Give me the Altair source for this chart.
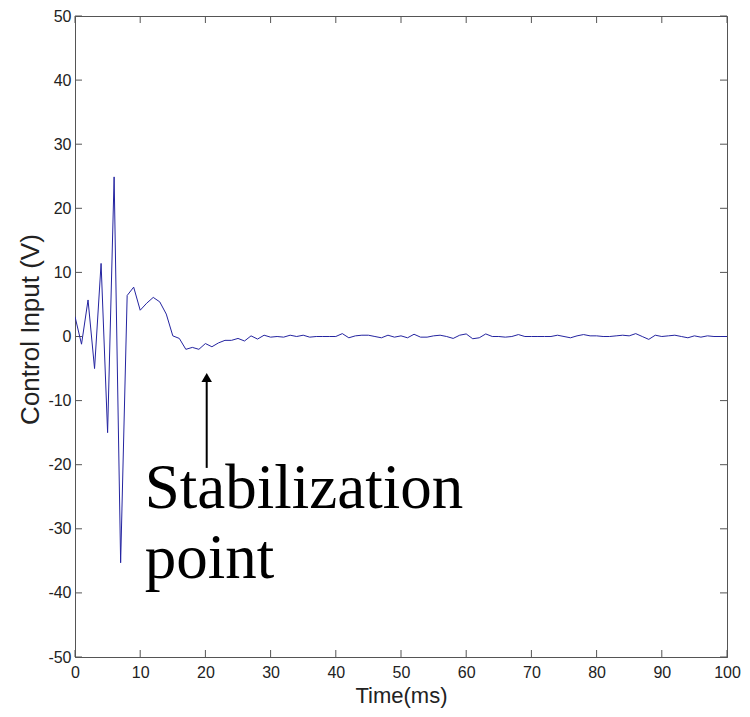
import altair as alt
import pandas as pd

# ---- data ----
time_ms = list(range(0, 101))
control_v = [
    3.1, -1.2, 5.7, -5.0, 11.4, -15.0, 24.9, -35.3, 6.4, 7.7,
    4.1, 5.2, 6.1, 5.4, 3.5, 0.1, -0.3, -2.0, -1.7, -2.0,
    -1.1, -1.6, -1.0, -0.6, -0.6, -0.3, -0.7, 0.1, -0.4, 0.2,
    -0.1, 0.0, -0.1, 0.2, 0.0, 0.2, -0.1, 0.0, 0.0, 0.0,
    0.0, 0.45, -0.2, 0.1, 0.2, 0.2, 0.0, -0.2, 0.2, -0.1,
    0.1, -0.2, 0.35, -0.1, -0.1, 0.1, 0.2, 0.0, -0.3, 0.2,
    0.4, -0.35, -0.2, 0.4, 0.0, 0.0, -0.1, 0.0, 0.3, 0.0,
    0.0, 0.0, 0.0, 0.0, 0.2, 0.0, -0.2, 0.1, 0.3, 0.1,
    0.1, 0.0, 0.0, 0.1, 0.2, 0.1, 0.45, 0.0, -0.45, 0.2,
    0.0, 0.1, 0.2, 0.0, -0.2, 0.1, -0.1, 0.1, 0.0, 0.0,
    0.0,
]
x_ticks = list(range(0, 101, 10))
y_ticks = list(range(-50, 51, 10))

# annotation
ann_lines = ["Stabilization", "point"]
ann_x = [10.7, 10.7]
ann_y = [-26.8, -37.7]
arrow_x = [20.2]
arrow_y_bottom = [-20.5]
arrow_y_top = [-6.6]
arrow_head_y = [-6.4]

W, H = 652, 641
AXIS_COLOR = "#555555"
TICK_LEN = 7
FONT = "Liberation Sans"

df = pd.DataFrame({"t": time_ms, "u": control_v})
xt = pd.DataFrame({"v": x_ticks})
yt = pd.DataFrame({"v": y_ticks})
ann = pd.DataFrame({"x": ann_x, "y": ann_y, "txt": ann_lines})
arr = pd.DataFrame({"x": arrow_x, "y": arrow_y_bottom, "y2": arrow_y_top, "yh": arrow_head_y})

xs = alt.Scale(domain=[0, 100], nice=False, zero=False)
ys = alt.Scale(domain=[-50, 50], nice=False, zero=False)

line = alt.Chart(df).mark_line(color="#2424a0", strokeWidth=1, clip=True).encode(
    x=alt.X("t:Q", scale=xs, axis=alt.Axis(
        values=x_ticks, ticks=False, grid=False, domain=True,
        domainColor=AXIS_COLOR, labelFont=FONT, labelFontSize=16,
        labelColor="#222222", labelPadding=7, labelFlush=False,
        labelExpr="toString(datum.value)",
        title="Time(ms)", titleFont=FONT, titleFontSize=22,
        titleFontWeight="normal", titleColor="#222222",
        titleX=W / 2, titleY=45, titleBaseline="alphabetic", titleAlign="center",
    )),
    y=alt.Y("u:Q", scale=ys, axis=alt.Axis(
        values=y_ticks, ticks=False, grid=False, domain=True,
        domainColor=AXIS_COLOR, labelFont=FONT, labelFontSize=16,
        labelColor="#222222", labelPadding=4, labelFlush=False,
        labelExpr="toString(datum.value)",
        title="Control Input (V)", titleFont=FONT, titleFontSize=26,
        titleFontWeight="normal", titleColor="#222222",
        titleX=-45, titleY=313, titleAngle=270, titleAlign="center",
        titleBaseline="middle",
    )),
)

# inside ticks (MATLAB style) on all four sides
xb = alt.Chart(xt).mark_rule(color=AXIS_COLOR, strokeWidth=1).encode(
    x=alt.X("v:Q", scale=xs), y=alt.value(H), y2=alt.value(H - TICK_LEN))
xtop = alt.Chart(xt).mark_rule(color=AXIS_COLOR, strokeWidth=1).encode(
    x=alt.X("v:Q", scale=xs), y=alt.value(0), y2=alt.value(TICK_LEN))
yl = alt.Chart(yt).mark_rule(color=AXIS_COLOR, strokeWidth=1).encode(
    y=alt.Y("v:Q", scale=ys), x=alt.value(0), x2=alt.value(TICK_LEN))
yr = alt.Chart(yt).mark_rule(color=AXIS_COLOR, strokeWidth=1).encode(
    y=alt.Y("v:Q", scale=ys), x=alt.value(W), x2=alt.value(W - TICK_LEN))

arrow_line = alt.Chart(arr).mark_rule(color="black", strokeWidth=2).encode(
    x=alt.X("x:Q", scale=xs), y=alt.Y("y:Q", scale=ys), y2="y2:Q")
arrow_head = alt.Chart(arr).mark_point(
    shape="triangle-up", filled=True, color="black", size=110, opacity=1
).encode(x=alt.X("x:Q", scale=xs), y=alt.Y("yh:Q", scale=ys))

text = alt.Chart(ann).mark_text(
    align="left", baseline="alphabetic", font="Liberation Serif",
    fontSize=63, color="black"
).encode(x=alt.X("x:Q", scale=xs), y=alt.Y("y:Q", scale=ys), text="txt:N")

chart = alt.layer(xb, xtop, yl, yr, line, arrow_line, arrow_head, text).properties(
    width=W, height=H,
    autosize=alt.AutoSizeParams(type="none"),
    padding={"left": 75, "top": 16, "right": 23, "bottom": 60},
    background="white",
).configure_view(stroke=AXIS_COLOR, strokeWidth=1)

chart.save("out.html", embed_options={"renderer": "svg", "actions": False})
